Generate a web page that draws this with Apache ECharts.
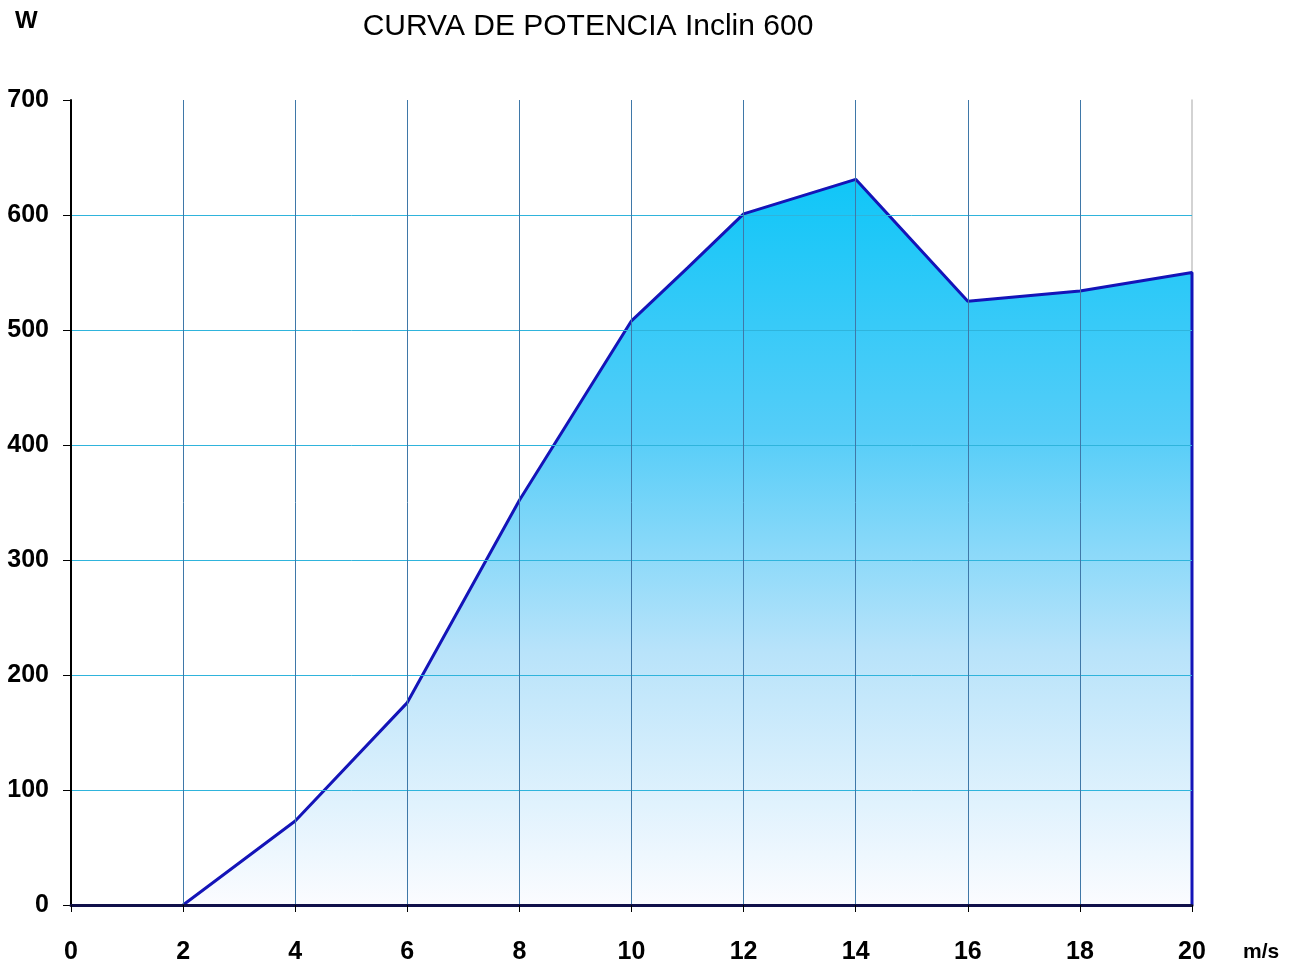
<!DOCTYPE html>
<html>
<head>
<meta charset="utf-8">
<script src="https://cdn.jsdelivr.net/npm/echarts@6/dist/echarts.min.js"></script>
<style>
  html, body { margin: 0; padding: 0; background: #fff; }
  #chart { width: 1297px; height: 965px; }
</style>
</head>
<body>
<div id="chart"></div>
<script>
// wind speed (m/s) and power (W)
var windSpeed = [2, 4, 6, 8, 10, 11, 12, 14, 16, 18, 20, 20]
var power = [0, 73, 176, 352, 508, 554, 601, 631, 525, 534, 550, 0]

var points = windSpeed.map(function (x, i) { return [x, power[i]] })

var chart = echarts.init(document.getElementById('chart'))
chart.setOption({
  backgroundColor: '#fff',
  animation: false,
  textStyle: { fontFamily: 'Liberation Sans, Arial, sans-serif' },
  title: {
    text: 'CURVA DE POTENCIA Inclin 600',
    left: 583,
    top: 7,
    textAlign: 'center',
    textStyle: { fontSize: 30, fontWeight: 'normal', color: '#000' }
  },
  graphic: [
    { type: 'text', left: 15, top: 9, style: { text: 'W', font: 'bold 24px "Liberation Sans", Arial', fill: '#000' } },
    { type: 'text', left: 1243, top: 942, style: { text: 'm/s', font: 'bold 21px "Liberation Sans", Arial', fill: '#000' } }
  ],
  grid: { left: 71, right: 105, top: 100, bottom: 57 },
  xAxis: [{
    type: 'value',
    min: 0,
    max: 20,
    interval: 2,
    z: 6,
    axisLine: { show: true, onZero: false, lineStyle: { color: '#10104a', width: 3 } },
    axisTick: { show: true, length: 7, lineStyle: { color: '#000', width: 1 } },
    axisLabel: { margin: 35, fontSize: 25, fontWeight: 'bold', color: '#000' },
    splitLine: { show: true, showMinLine: false, showMaxLine: false, lineStyle: { color: '#3f78a8', width: 1 } }
  }, {
    // top border of the plot
    type: 'value',
    position: 'top',
    min: 0,
    max: 20,
    axisLine: { show: true, lineStyle: { color: '#c4c4c4', width: 1.5 } },
    axisTick: { show: false },
    axisLabel: { show: false },
    splitLine: { show: false }
  }],
  yAxis: [{
    type: 'value',
    position: 'left',
    min: 0,
    max: 700,
    interval: 100,
    z: 5,
    axisLine: { show: true, onZero: false, lineStyle: { color: '#000', width: 2 } },
    axisTick: { show: true, length: 8, lineStyle: { color: '#000', width: 1 } },
    axisLabel: { margin: 22, fontSize: 25, fontWeight: 'bold', color: '#000' },
    splitLine: { show: true, showMinLine: false, showMaxLine: false, lineStyle: { color: '#2fb4dc', width: 1 } }
  }, {
    // right border of the plot
    type: 'value',
    position: 'right',
    min: 0,
    max: 700,
    axisLine: { show: true, onZero: false, lineStyle: { color: '#c4c4c4', width: 1.5 } },
    axisTick: { show: false },
    axisLabel: { show: false },
    splitLine: { show: false }
  }],
  series: [{
    type: 'line',
    data: points,
    symbol: 'none',
    z: 3,
    lineStyle: { color: '#1414b8', width: 3 },
    areaStyle: {
      origin: 'start',
      opacity: 1,
      color: new echarts.graphic.LinearGradient(0, 0, 0, 1, [
        { offset: 0, color: '#10c6f8' },
        { offset: 0.35, color: '#55cdf8' },
        { offset: 0.65, color: '#b8e3fa' },
        { offset: 1, color: '#fbfcff' }
      ])
    }
  }]
})
</script>
</body>
</html>
